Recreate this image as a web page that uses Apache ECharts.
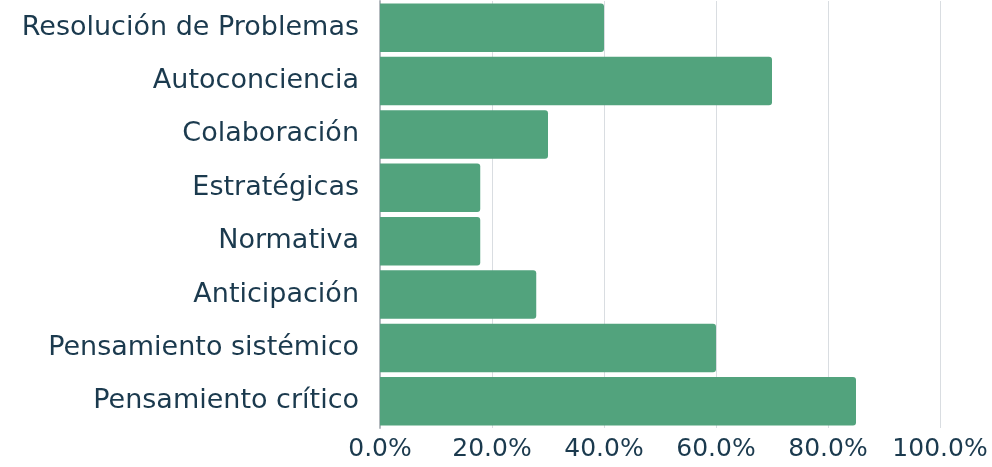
<!DOCTYPE html>
<html>
<head>
<meta charset="utf-8">
<script src="https://cdn.jsdelivr.net/npm/echarts@6/dist/echarts.min.js"></script>
<style>
  html, body { margin: 0; padding: 0; background: #fff; }
  #chart { width: 992px; height: 467px; }
</style>
</head>
<body>
<div id="chart"></div>
<script>
  // categorias (de abajo hacia arriba, como las dibuja el eje)
  var categories = ['Pensamiento crítico', 'Pensamiento sistémico', 'Anticipación', 'Normativa',
    'Estratégicas', 'Colaboración', 'Autoconciencia', 'Resolución de Problemas'];
  // porcentaje de cada competencia
  var values = [85, 60, 27.9, 17.9, 17.9, 30, 70, 40];
  var xTicks = [0, 20, 40, 60, 80, 100];

  var textColor = '#1b3a4e';
  var font = '"DejaVu Sans", sans-serif';

  var myChart = echarts.init(document.getElementById('chart'));
  myChart.setOption({
    animation: false,
    grid: { left: 380, right: 52, top: 1, bottom: 39 },
    xAxis: {
      type: 'value',
      min: xTicks[0],
      max: xTicks[xTicks.length - 1],
      interval: 20,
      axisLine: { show: false },
      axisTick: { show: false },
      splitLine: { lineStyle: { color: '#d9dde1', width: 1 } },
      axisLabel: {
        color: textColor, fontFamily: font, fontSize: 25, margin: 9,
        formatter: function (v) { return v.toFixed(1) + '%'; }
      }
    },
    yAxis: {
      type: 'category',
      data: categories,
      axisLine: { show: true, lineStyle: { color: '#b3b9be', width: 2 } },
      axisTick: { show: false },
      axisLabel: { color: textColor, fontFamily: font, fontSize: 27, margin: 21 }
    },
    series: [{
      type: 'bar',
      data: values,
      barCategoryGap: '9%',
      itemStyle: { color: '#52a37d', borderRadius: [0, 3, 3, 0] }
    }]
  });
</script>
</body>
</html>
